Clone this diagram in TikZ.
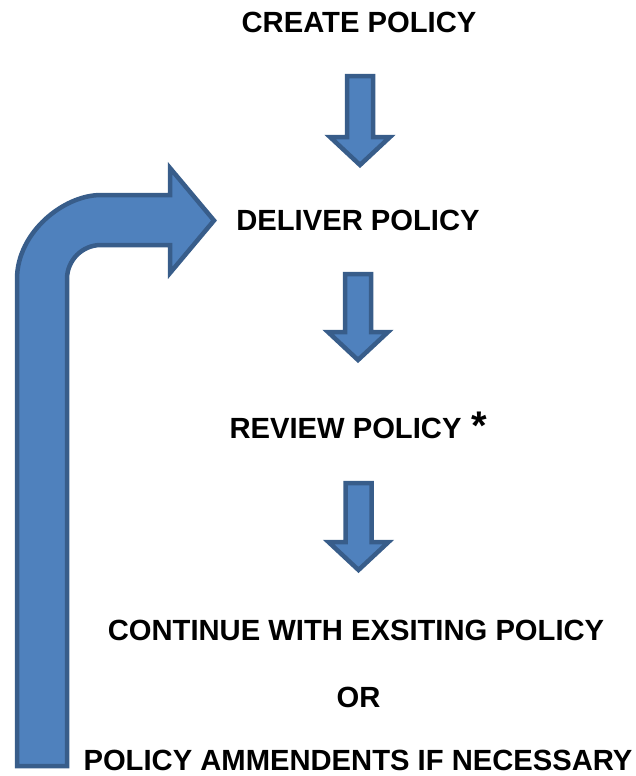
\documentclass[tikz,border=0pt]{standalone}
\usepackage{fontspec}
\setmainfont{Liberation Sans}
\definecolor{afill}{HTML}{4F81BD}
\definecolor{aline}{HTML}{385D8A}
\begin{document}
\begin{tikzpicture}[x=1pt,y=-1pt,
  lbl/.style={font=\fontsize{29.2}{34}\selectfont\bfseries, inner sep=0pt, anchor=center},
  blockarrow/.style={fill=afill, draw=aline, line width=4.5pt, line join=miter},
]
\useasboundingbox (0,0) rectangle (635,776);

% labels
\node[lbl] (create)   at (359,22.5) {CREATE POLICY};
\node[lbl] (deliver)  at (358,220) {DELIVER POLICY};
\node[lbl] (review)   at (345.5,428) {REVIEW POLICY};
\node[font=\fontsize{40}{40}\selectfont\bfseries, inner sep=0pt, anchor=base] (star) at (479,439) {*};
\node[lbl] (continue) at (356,630) {CONTINUE WITH EXSITING POLICY};
\node[lbl] (or)       at (358.5,697.5) {OR};
\node[lbl] (amend)    at (358,760) {POLICY AMMENDENTS IF NECESSARY};

% down block arrows
\draw[blockarrow] (347,76) -- (373,76) -- (373,137) -- (390,137) -- (360,165) -- (330,137) -- (347,137) -- cycle;
\draw[blockarrow] (345,274) -- (371,274) -- (371,332) -- (388,332) -- (358,360) -- (328,332) -- (345,332) -- cycle;
\draw[blockarrow] (345.5,483) -- (371.5,483) -- (371.5,542) -- (388.5,542) -- (358.5,570) -- (328.5,542) -- (345.5,542) -- cycle;

% bent return arrow
\draw[blockarrow] (17,766) -- (17,279)
  .. controls (17,232.6) and (63.4,195) .. (101,195)
  -- (170,195) -- (170,168) -- (214,220.5) -- (170,273) -- (170,245)
  -- (101,245) .. controls (82.2,245) and (67,260.2) .. (67,279)
  -- (67,766) -- cycle;
\end{tikzpicture}
\end{document}
